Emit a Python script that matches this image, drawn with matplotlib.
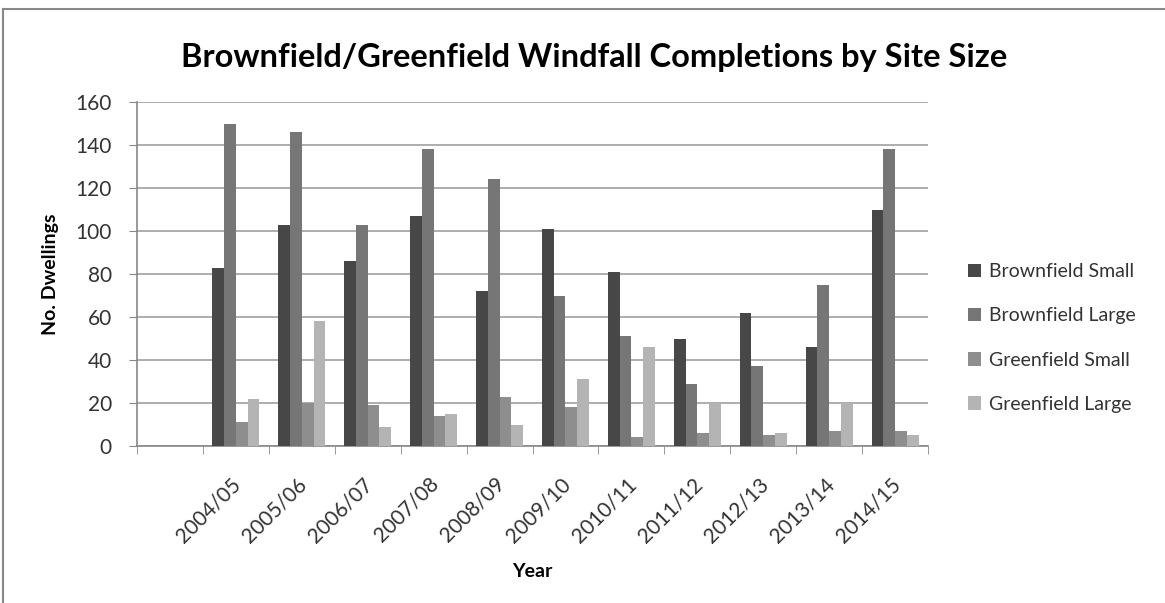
import matplotlib
matplotlib.use("Agg")
import matplotlib.pyplot as plt
from matplotlib.lines import Line2D
import matplotlib.transforms as mtransforms
import numpy as np

years = ["", "2004/05", "2005/06", "2006/07", "2007/08", "2008/09", "2009/10",
         "2010/11", "2011/12", "2012/13", "2013/14", "2014/15"]
series_names = ["Brownfield Small", "Brownfield Large", "Greenfield Small", "Greenfield Large"]
brownfield_small = [None, 83, 103, 86, 107, 72, 101, 81, 50, 62, 46, 110]
brownfield_large = [None, 150, 146, 103, 138, 124, 70, 51, 29, 37, 75, 138]
greenfield_small = [None, 11, 20, 19, 14, 23, 18, 4, 6, 5, 7, 7]
greenfield_large = [None, 22, 58, 9, 15, 10, 31, 46, 20, 6, 20, 5]
yticks = [0, 20, 40, 60, 80, 100, 120, 140, 160]

colors = ["#474747", "#767676", "#8e8e8e", "#b4b4b4"]
font = "Lato"

fig = plt.figure(figsize=(11.65, 6.03), dpi=100)
ax = fig.add_axes([137/1165, 1-446/603, (928-137)/1165, (446-102)/603])

all_series = [brownfield_small, brownfield_large, greenfield_small, greenfield_large]
x = np.arange(len(years))
w = 0.178
for i, (vals, name, c) in enumerate(zip(all_series, series_names, colors)):
    xs = [xi + (i-1.5)*w for xi, v in zip(x, vals) if v is not None]
    vs = [v for v in vals if v is not None]
    ax.bar(xs, vs, width=w, color=c, label=name, zorder=3, linewidth=0)

ax.set_xlim(-0.5, len(years)-0.5)
ax.set_ylim(0, 160)
ax.set_yticks(yticks)
ax.set_yticklabels([str(t) for t in yticks], fontsize=15, family=font, color="#333333")
ax.yaxis.grid(True, color="#a0a0a0", linewidth=1.2, zorder=0)
ax.tick_params(axis="y", length=6, color="#888888", pad=12)

ax.set_xticks(x)
ax.set_xticklabels(years, rotation=45, ha="right", rotation_mode="anchor",
                   fontsize=15, family=font, color="#333333")
ax.tick_params(axis="x", which="major", length=0, pad=20)
ax.set_xticks(np.arange(len(years)+1)-0.5, minor=True)
ax.tick_params(axis="x", which="minor", length=6, color="#888888")
shift = mtransforms.ScaledTranslation(-5/100, 0, fig.dpi_scale_trans)
for lbl in ax.get_xticklabels():
    lbl.set_transform(lbl.get_transform() + shift)

for s in ["top", "right"]:
    ax.spines[s].set_visible(False)
for s in ["left", "bottom"]:
    ax.spines[s].set_color("#888888")
    ax.spines[s].set_linewidth(1.2)

ax.set_xlabel("Year", fontsize=14, fontweight="bold", family=font, labelpad=12)
ax.set_ylabel("No. Dwellings", fontsize=14, fontweight="bold", family=font, labelpad=12)

fig.text(594/1165, 1-58/603, "Brownfield/Greenfield Windfall Completions by Site Size",
         ha="center", va="center", fontsize=23.5, fontweight="bold", family=font)

leg = ax.legend(loc="center left", bbox_to_anchor=(950/1165, 1-338/603),
                bbox_transform=fig.transFigure, frameon=False,
                prop={"family": font, "size": 14}, handlelength=0.7, handleheight=0.7,
                handletextpad=0.4, labelspacing=1.4)
for t in leg.get_texts():
    t.set_color("#333333")

# outer border
fig.add_artist(Line2D([3/1165, 1], [1-9/603, 1-9/603], color="#888888", linewidth=1.5, transform=fig.transFigure))
fig.add_artist(Line2D([3/1165, 3/1165], [0, 1-9/603], color="#888888", linewidth=1.5, transform=fig.transFigure))

fig.savefig("out.png", dpi=100)
